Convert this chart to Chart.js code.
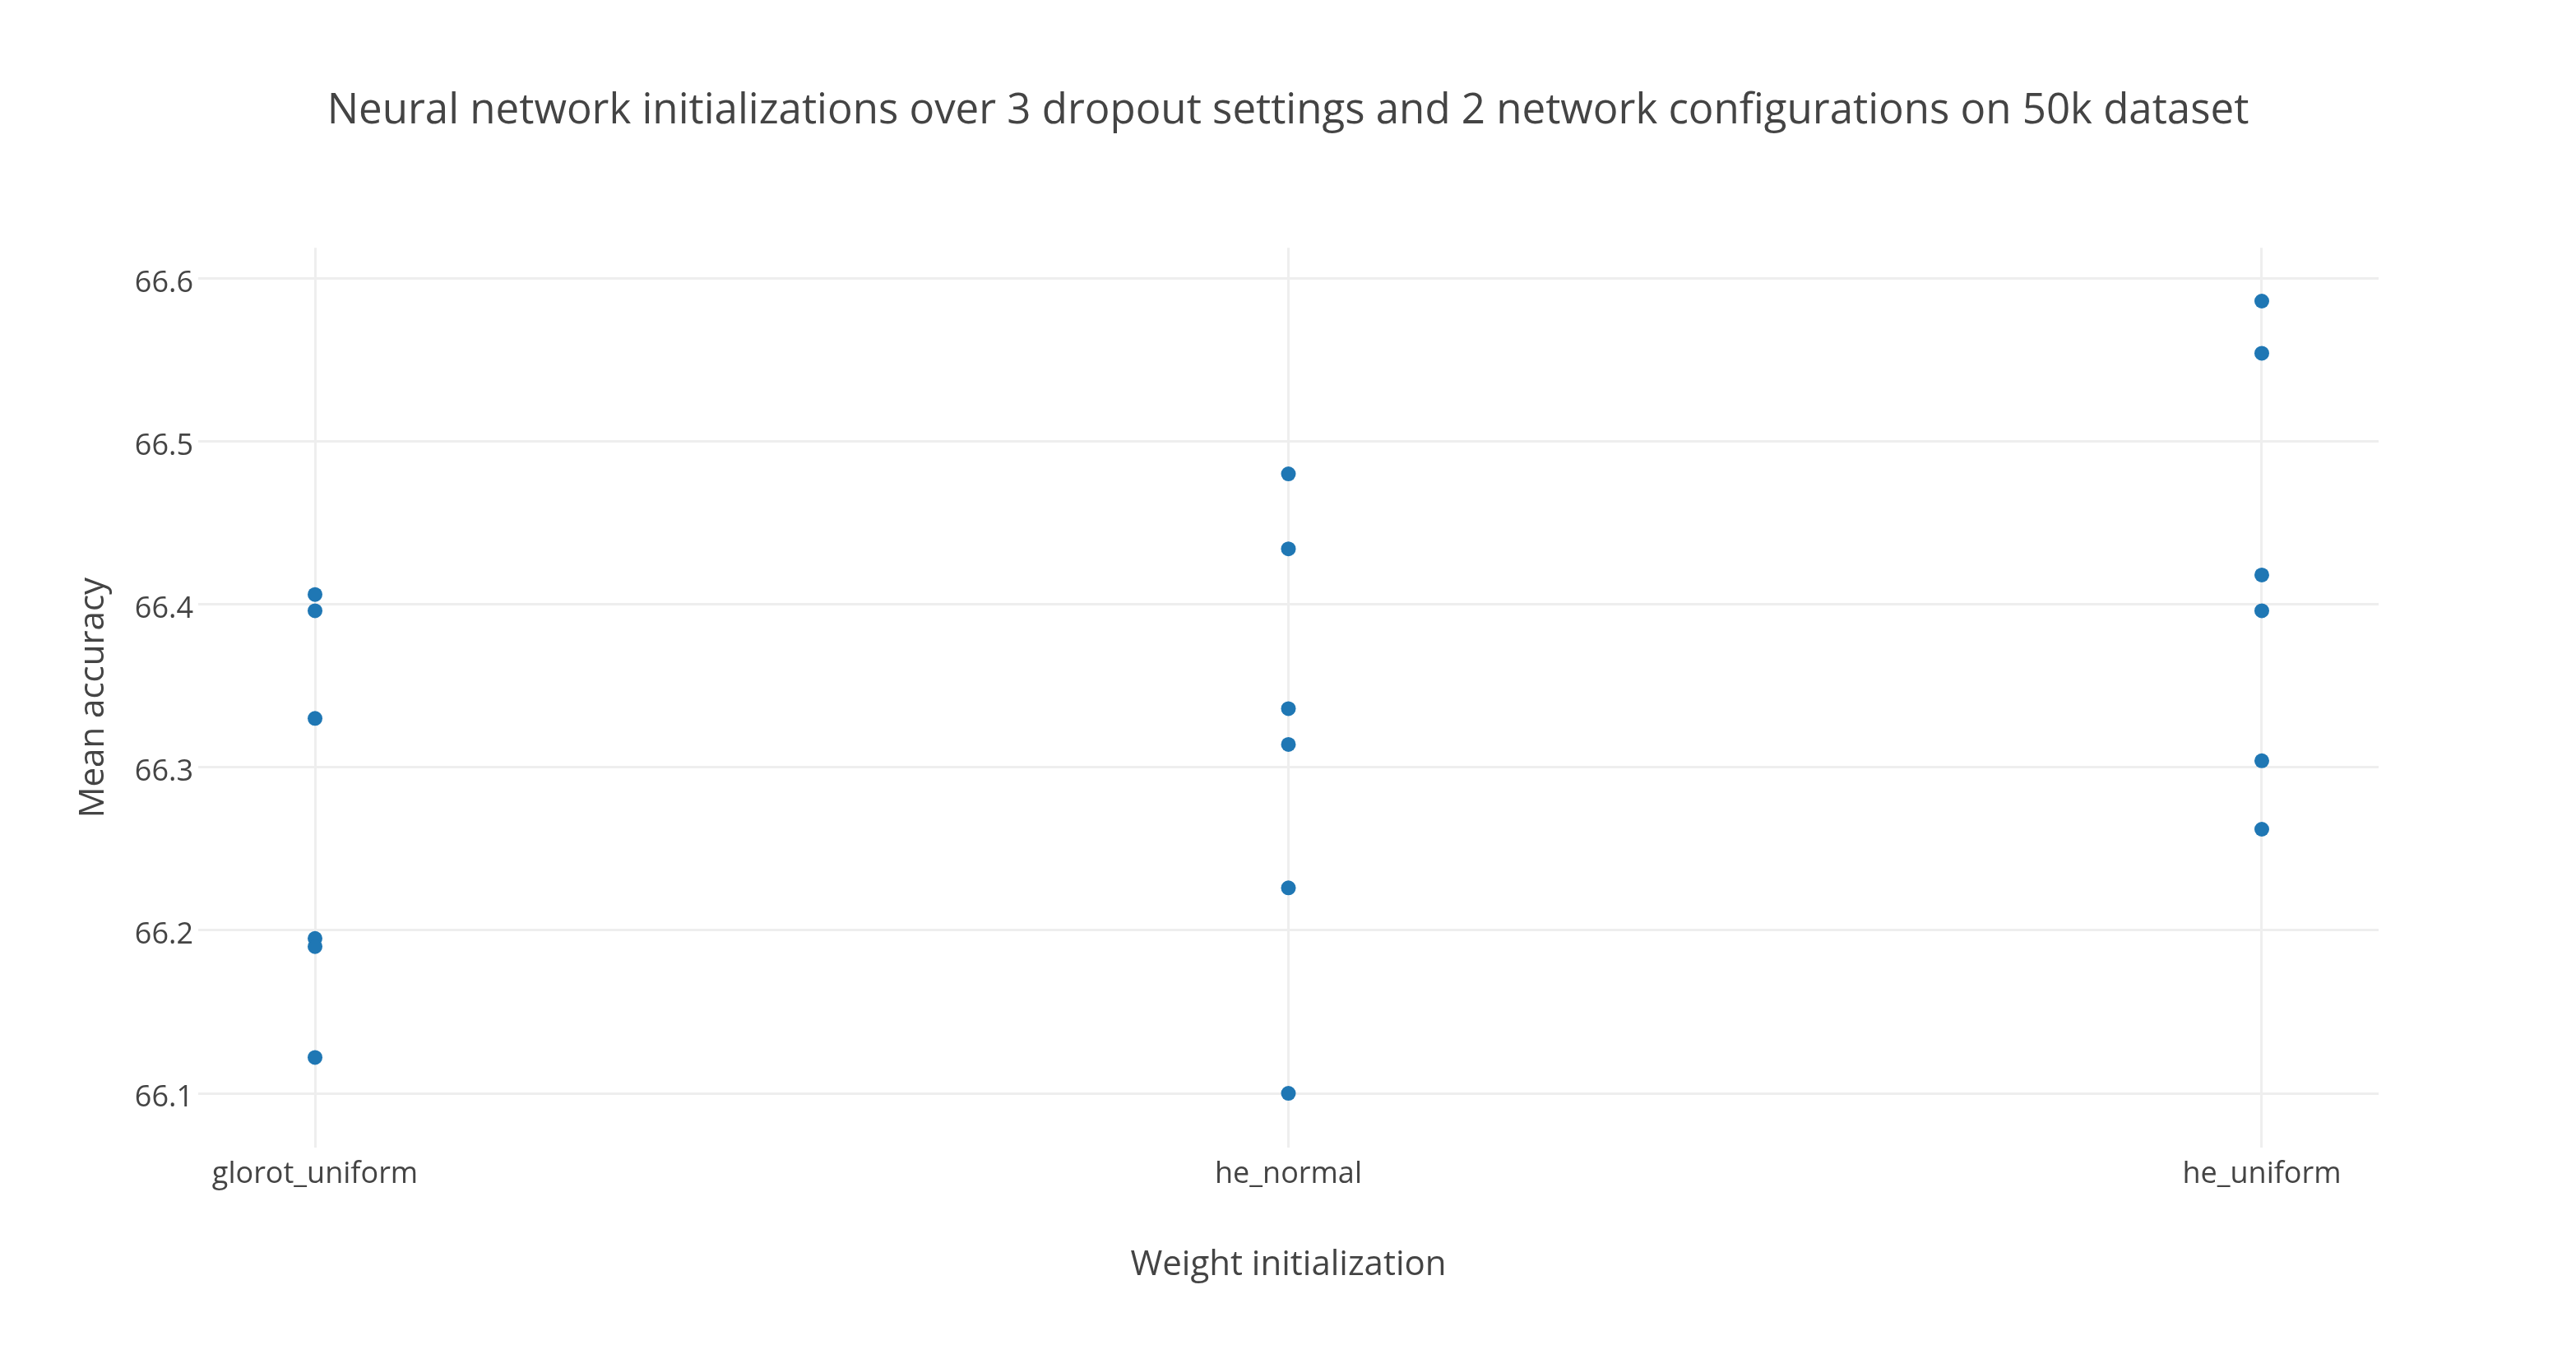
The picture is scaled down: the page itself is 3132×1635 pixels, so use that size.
<!DOCTYPE html>
<html>
<head>
<meta charset="utf-8">
<script src="https://cdn.jsdelivr.net/npm/chart.js@4.4.1/dist/chart.umd.min.js"></script>
<style>
  html, body { margin: 0; padding: 0; background: #fff; }
  canvas { display: block; }
</style>
</head>
<body>
<canvas id="scatter" width="3132" height="1635"></canvas>
<script>
// values
const categories = ['glorot_uniform', 'he_normal', 'he_uniform'];
const glorotUniform = [66.406, 66.396, 66.330, 66.195, 66.190, 66.122];
const heNormal = [66.480, 66.434, 66.336, 66.314, 66.226, 66.100];
const heUniform = [66.586, 66.554, 66.418, 66.396, 66.304, 66.262];

const textColor = '#444444';
const gridColor = '#eeeeee';

// one point list, x is the category index
const points = [];
[glorotUniform, heNormal, heUniform].forEach((vals, i) => {
    vals.forEach(v => points.push({ x: i, y: v }));
});

const ctx = document.getElementById('scatter').getContext('2d');

const chart = new Chart(ctx, {
    type: 'scatter',
    data: {
        datasets: [{
            label: 'Mean accuracy',
            data: points,
            backgroundColor: '#1f77b4',
            borderWidth: 0,
            pointRadius: 9,
            pointHoverRadius: 9
        }]
    },
    options: {
        responsive: false,
        devicePixelRatio: 1,
        animation: false,
        layout: { padding: 0 },
        plugins: {
            legend: { display: false },
            tooltip: { enabled: false },
            title: {
                display: true,
                text: 'Neural network initializations over 3 dropout settings and 2 network configurations on 50k dataset',
                color: textColor,
                font: { family: 'Open Sans', size: 51, weight: 'normal' },
                padding: { top: 105, bottom: 135 }
            }
        },
        scales: {
            x: {
                type: 'linear',
                min: -0.12,
                max: 2.12,
                afterFit: s => { s.height = 240; },
                border: { display: false },
                grid: { color: gridColor, lineWidth: 3, drawTicks: false },
                ticks: {
                    stepSize: 1,
                    includeBounds: false,
                    padding: 11,
                    color: textColor,
                    font: { family: 'Open Sans', size: 36 },
                    callback: v => categories[v] || ''
                },
                title: {
                    display: true,
                    text: 'Weight initialization',
                    color: textColor,
                    font: { family: 'Open Sans', size: 42 },
                    padding: { top: 0, bottom: 72 }
                }
            },
            y: {
                min: 66.0667,
                max: 66.6187,
                afterFit: s => { s.width = 241; },
                border: { display: false },
                grid: { color: gridColor, lineWidth: 3, drawTicks: false },
                ticks: {
                    stepSize: 0.1,
                    includeBounds: false,
                    padding: 6,
                    labelOffset: 6,
                    color: textColor,
                    font: { family: 'Open Sans', size: 36 },
                    callback: v => v.toFixed(1)
                },
                title: {
                    display: true,
                    text: 'Mean accuracy',
                    color: textColor,
                    font: { family: 'Open Sans', size: 42 },
                    padding: { top: 89, bottom: 0 }
                }
            },
            // empty right axis, only keeps the right margin so the title stays centred
            right: {
                type: 'linear',
                position: 'right',
                afterFit: s => { s.width = 240; },
                border: { display: false },
                grid: { display: false },
                ticks: { display: false }
            }
        }
    }
});
</script>
</body>
</html>
